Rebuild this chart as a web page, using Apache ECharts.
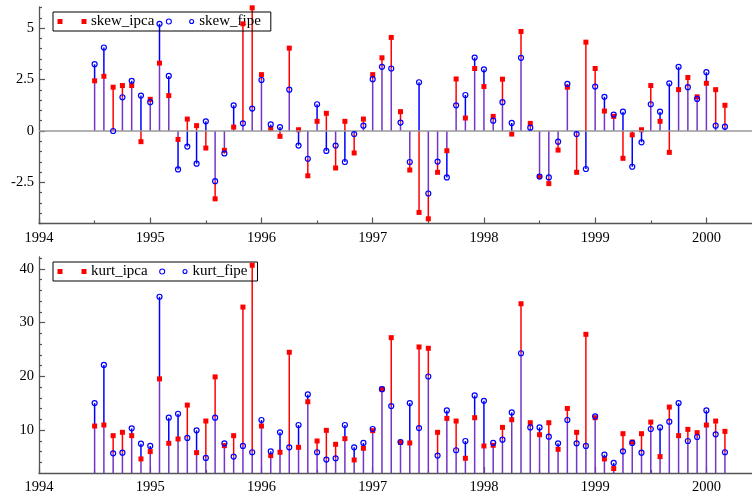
<!DOCTYPE html>
<html>
<head>
<meta charset="utf-8">
<script src="https://cdn.jsdelivr.net/npm/echarts@6/dist/echarts.min.js"></script>
<style>
html,body{margin:0;padding:0;background:#fff;}
#chart{width:752px;height:496px;}
</style>
</head>
<body>
<div id="chart"></div>
<script>
// Monthly observations, July 1994 - March 2000
const months = [
  '1994-07','1994-08','1994-09','1994-10','1994-11','1994-12',
  '1995-01','1995-02','1995-03','1995-04','1995-05','1995-06','1995-07','1995-08','1995-09','1995-10','1995-11','1995-12',
  '1996-01','1996-02','1996-03','1996-04','1996-05','1996-06','1996-07','1996-08','1996-09','1996-10','1996-11','1996-12',
  '1997-01','1997-02','1997-03','1997-04','1997-05','1997-06','1997-07','1997-08','1997-09','1997-10','1997-11','1997-12',
  '1998-01','1998-02','1998-03','1998-04','1998-05','1998-06','1998-07','1998-08','1998-09','1998-10','1998-11','1998-12',
  '1999-01','1999-02','1999-03','1999-04','1999-05','1999-06','1999-07','1999-08','1999-09','1999-10','1999-11','1999-12',
  '2000-01','2000-02','2000-03'
];

const skewIpca = [
  2.44, 2.66, 2.13, 2.21, 2.21, -0.52,
  1.54, 3.30, 1.72, -0.41, 0.58, 0.26, -0.83, -3.30, -0.94, 0.19, 5.21, 5.99,
  2.74, 0.11, -0.26, 4.03, 0.06, -2.18, 0.47, 0.86, -1.80, 0.47, -1.07, 0.58,
  2.74, 3.56, 4.55, 0.94, -1.90, -3.96, -4.27, -2.01, -0.96, 2.53, 0.63, 3.04,
  2.16, 0.71, 2.52, -0.15, 4.84, 0.37, -2.21, -2.56, -0.93, 2.13, -2.01, 4.32,
  3.04, 0.97, 0.71, -1.33, -0.19, 0.06, 2.21, 0.47, -1.04, 2.01, 2.60, 1.66,
  2.32, 2.01, 1.25
];
const skewFipe = [
  3.25, 4.06, 0.00, 1.64, 2.44, 1.72,
  1.40, 5.21, 2.68, -1.87, -0.76, -1.59, 0.47, -2.44, -1.09, 1.25, 0.37, 1.09,
  2.48, 0.32, 0.19, 2.01, -0.71, -1.35, 1.30, -0.97, -0.71, -1.51, -0.15, 0.26,
  2.52, 3.12, 3.04, 0.41, -1.51, 2.37, -3.04, -1.49, -2.26, 1.25, 1.75, 3.57,
  3.00, 0.50, 1.40, 0.39, 3.56, 0.16, -2.22, -2.26, -0.52, 2.29, -0.15, -1.85,
  2.16, 1.66, 0.80, 0.94, -1.74, -0.55, 1.30, 0.94, 2.32, 3.12, 2.13, 1.56,
  2.86, 0.26, 0.21
];
const kurtIpca = [
  10.74, 10.93, 8.95, 9.57, 8.95, 4.62,
  5.98, 19.52, 7.53, 8.33, 14.64, 5.79, 11.67, 19.89, 7.09, 8.95, 32.88, 40.67,
  10.74, 5.24, 5.86, 24.47, 6.78, 15.26, 7.96, 9.94, 7.34, 8.39, 4.43, 6.60,
  9.88, 17.61, 27.19, 7.71, 7.59, 25.46, 25.21, 9.57, 12.16, 11.67, 4.74, 12.29,
  7.03, 7.16, 10.49, 11.92, 33.50, 11.36, 9.13, 11.36, 6.41, 14.02, 9.57, 27.81,
  12.29, 4.62, 2.83, 9.32, 7.77, 9.32, 11.48, 5.05, 14.27, 8.95, 10.12, 9.51,
  10.93, 11.67, 9.75
];
const kurtFipe = [
  15.01, 22.12, 5.67, 5.79, 10.31, 7.46,
  7.03, 34.80, 12.29, 13.03, 8.52, 9.94, 4.81, 12.29, 7.53, 5.05, 7.03, 5.86,
  11.86, 6.04, 9.57, 6.78, 10.93, 16.62, 5.86, 4.50, 4.74, 10.93, 6.78, 7.59,
  10.19, 17.61, 14.45, 7.77, 15.01, 10.37, 19.96, 5.24, 13.65, 6.23, 7.96, 16.43,
  15.44, 7.59, 8.21, 13.28, 24.29, 10.49, 10.49, 8.76, 7.53, 11.86, 7.53, 7.03,
  12.54, 5.42, 3.88, 6.04, 7.59, 5.79, 10.19, 10.49, 11.55, 15.01, 7.96, 8.70,
  13.65, 9.20, 5.86
];

// Tick labels / tick positions
const yearTicks = [1994, 1995, 1996, 1997, 1998, 1999, 2000];
const halfYearTicks = [1994.5, 1995.5, 1996.5, 1997.5, 1998.5, 1999.5];
const skewMajorTicks = [-2.5, 0, 2.5, 5];
const skewMinorTicks = [-4.5, -4, -3.5, -3, -2, -1.5, -1, -0.5, 0.5, 1, 1.5, 2, 3, 3.5, 4, 4.5, 5.5, 6];
const kurtMajorTicks = [10, 20, 30, 40];
const kurtMinorTicks = [4, 6, 8, 12, 14, 16, 18, 22, 24, 26, 28, 32, 34, 36, 38, 42];

const X_MIN = 1994, X_MAX = 2000.41;
const RED = '#ff0000', BLUE = '#0000ff', PURPLE = '#7433c9';
const FONT = 'Liberation Serif';
const AXIS_COLOR = '#555';

const xs = months.map(m => {
  const [y, mo] = m.split('-').map(Number);
  return y + (mo - 1) / 12;
});

function stemRender(params, api) {
  const x = api.value(0), r = api.value(1), b = api.value(2);
  const children = [];
  const seg = (v0, v1, color) => {
    const p0 = api.coord([x, v0]);
    const p1 = api.coord([x, v1]);
    children.push({
      type: 'line',
      shape: { x1: p0[0], y1: p0[1], x2: p1[0], y2: p1[1] },
      style: { stroke: color, lineWidth: 1.5 }
    });
  };
  if (r * b > 0) {
    const small = Math.abs(r) < Math.abs(b) ? r : b;
    seg(0, small, PURPLE);
    if (Math.abs(r) > Math.abs(b)) seg(small, r, RED); else if (Math.abs(b) > Math.abs(r)) seg(small, b, BLUE);
  } else {
    seg(0, r, RED);
    seg(0, b, BLUE);
  }
  return { type: 'group', children: children };
}

function makeXAxes(gridIndex) {
  return [
    {
      gridIndex, type: 'value', position: 'bottom', min: X_MIN, max: X_MAX,
      axisLine: { show: true, onZero: false, lineStyle: { color: AXIS_COLOR, width: 1.3 } },
      axisTick: { show: true, inside: true, length: 6, customValues: yearTicks, lineStyle: { color: AXIS_COLOR, width: 1.2 } },
      axisLabel: { show: true, customValues: yearTicks, margin: 7, color: '#000', fontFamily: FONT, fontSize: 14.5,
        formatter: v => String(Math.round(v)) },
      splitLine: { show: false }
    },
    {
      gridIndex, type: 'value', position: 'bottom', min: X_MIN, max: X_MAX,
      axisLine: { show: false, onZero: false },
      axisTick: { show: true, inside: true, length: 3, customValues: halfYearTicks, lineStyle: { color: AXIS_COLOR, width: 1.2 } },
      axisLabel: { show: false },
      splitLine: { show: false }
    }
  ];
}

function makeYAxes(gridIndex, min, max, major, minor) {
  return [
    {
      gridIndex, type: 'value', position: 'left', min, max,
      axisLine: { show: true, onZero: false, lineStyle: { color: AXIS_COLOR, width: 1.3 } },
      axisTick: { show: true, inside: true, length: 6, customValues: major, lineStyle: { color: AXIS_COLOR, width: 1.2 } },
      axisLabel: { show: true, customValues: major, margin: 5, color: '#000', fontFamily: FONT, fontSize: 14.5 },
      splitLine: { show: false }
    },
    {
      gridIndex, type: 'value', position: 'left', min, max,
      axisLine: { show: false, onZero: false },
      axisTick: { show: true, inside: true, length: 3, customValues: minor, lineStyle: { color: AXIS_COLOR, width: 1.2 } },
      axisLabel: { show: false },
      splitLine: { show: false }
    }
  ];
}

const richStyles = {
  g1: { width: 14 },
  rs: { width: 5, height: 5, backgroundColor: RED },
  g2: { width: 4.5 },
  g3: { width: 13.3 },
  bc: { width: 4, height: 4, borderColor: BLUE, borderWidth: 1.1, borderRadius: 3 },
  g4: { width: 5.5 }
};

function makeLegend(top, names) {
  return {
    top, left: 53, orient: 'horizontal',
    data: [
      { name: names[0], icon: 'rect', itemStyle: { color: RED, borderWidth: 0 } },
      { name: names[1], icon: 'circle', itemStyle: { color: 'rgba(255,255,255,0)', borderColor: BLUE, borderWidth: 1.1 } }
    ],
    itemWidth: 5, itemHeight: 5, itemGap: 11.5,
    padding: [2, 10, 2, 4.5],
    borderColor: '#000', borderWidth: 1, borderRadius: 0,
    selectedMode: false,
    textStyle: { fontFamily: FONT, fontSize: 15, color: '#000', rich: richStyles },
    formatter: name => name.indexOf('ipca') >= 0
      ? '{g1|\u00a0}{rs|\u00a0}{g2|\u00a0}' + name
      : '{g3|\u00a0}{bc|\u00a0}{g4|\u00a0}' + name
  };
}

function panelSeries(xi, yi, ipca, fipe, nameI, nameF, zeroLine) {
  const red = {
    name: nameI, type: 'scatter', xAxisIndex: xi, yAxisIndex: yi,
    data: xs.map((x, i) => [x, ipca[i]]),
    symbol: 'rect', symbolSize: 5,
    itemStyle: { color: RED, opacity: 1 },
    z: 4, silent: true
  };
  if (zeroLine) {
    red.markLine = {
      silent: true, symbol: 'none', label: { show: false },
      lineStyle: { color: '#999', width: 1.5, type: 'solid' },
      data: [{ yAxis: 0 }]
    };
  }
  return [
    {
      type: 'custom', xAxisIndex: xi, yAxisIndex: yi, clip: true, silent: true, z: 3,
      data: xs.map((x, i) => [x, ipca[i], fipe[i]]),
      encode: { x: 0, y: [1, 2] },
      renderItem: stemRender
    },
    red,
    {
      name: nameF, type: 'scatter', xAxisIndex: xi, yAxisIndex: yi,
      data: xs.map((x, i) => [x, fipe[i]]),
      symbol: 'circle', symbolSize: 5,
      itemStyle: { color: 'rgba(255,255,255,0)', borderColor: BLUE, borderWidth: 1.2, opacity: 1 },
      z: 5, silent: true
    }
  ];
}

const chart = echarts.init(document.getElementById('chart'), null, { renderer: 'canvas' });
chart.setOption({
  backgroundColor: '#fff',
  animation: false,
  grid: [
    { left: 39, top: 7, width: 713, height: 216.5, containLabel: false, outerBoundsMode: 'none' },
    { left: 39, top: 257, width: 713, height: 216, containLabel: false, outerBoundsMode: 'none' }
  ],
  legend: [
    makeLegend(12, ['skew_ipca', 'skew_fipe']),
    makeLegend(262, ['kurt_ipca', 'kurt_fipe'])
  ],
  xAxis: [].concat(makeXAxes(0), makeXAxes(1)),
  yAxis: [].concat(
    makeYAxes(0, -4.5, 6.03, skewMajorTicks, skewMinorTicks),
    makeYAxes(1, 2, 42.2, kurtMajorTicks, kurtMinorTicks)
  ),
  series: [].concat(
    panelSeries(0, 0, skewIpca, skewFipe, 'skew_ipca', 'skew_fipe', true),
    panelSeries(2, 2, kurtIpca, kurtFipe, 'kurt_ipca', 'kurt_fipe', false)
  )
});
</script>
</body>
</html>
